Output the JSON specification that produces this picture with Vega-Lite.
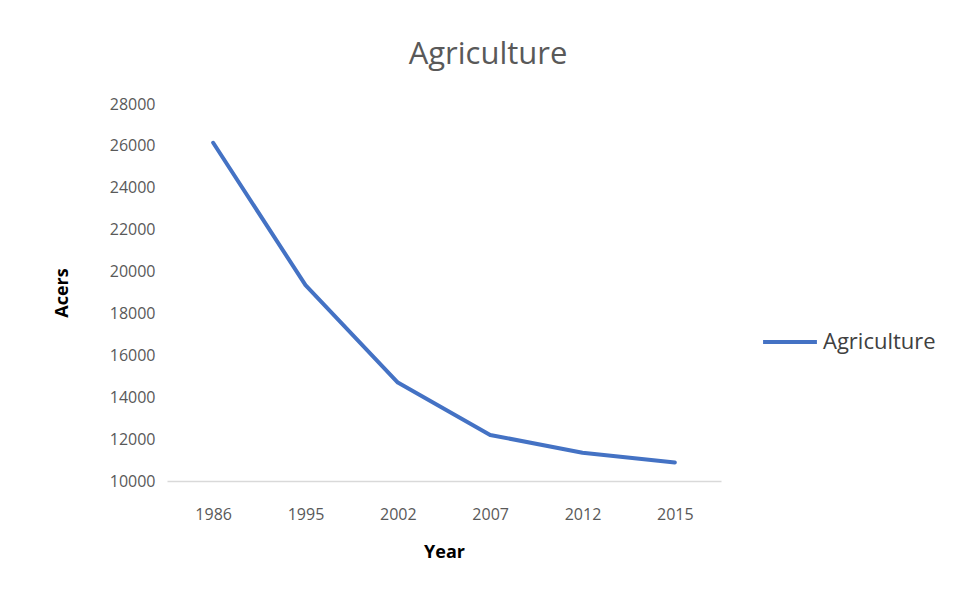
{
  "$schema": "https://vega.github.io/schema/vega-lite/v6.json",
  "width": 554,
  "height": 377,
  "autosize": {"type": "none"},
  "padding": {"left": 167, "top": 104, "right": 235, "bottom": 116},
  "background": "white",
  "title": {
    "text": "Agriculture",
    "font": "Open Sans",
    "fontSize": 31,
    "fontWeight": "normal",
    "color": "#595959",
    "anchor": "middle",
    "frame": "group",
    "dx": 44,
    "offset": 25
  },
  "data": {
    "values": [
      {"Year": "1986", "Acers": 26150, "Series": "Agriculture"},
      {"Year": "1995", "Acers": 19350, "Series": "Agriculture"},
      {"Year": "2002", "Acers": 14700, "Series": "Agriculture"},
      {"Year": "2007", "Acers": 12200, "Series": "Agriculture"},
      {"Year": "2012", "Acers": 11350, "Series": "Agriculture"},
      {"Year": "2015", "Acers": 10880, "Series": "Agriculture"}
    ]
  },
  "mark": {"type": "line", "strokeWidth": 4, "strokeCap": "round", "strokeJoin": "round"},
  "encoding": {
    "x": {
      "field": "Year",
      "type": "ordinal",
      "sort": null,
      "axis": {
        "title": "Year",
        "labelAngle": 0,
        "labelFont": "Open Sans",
        "labelFontSize": 16,
        "labelColor": "#595959",
        "labelPadding": 25,
        "ticks": false,
        "domainColor": "#d9d9d9",
        "domainWidth": 1.5,
        "titleFont": "Open Sans",
        "titleFontSize": 18,
        "titleFontWeight": "bold",
        "titleColor": "#000000",
        "titlePadding": 21
      }
    },
    "y": {
      "field": "Acers",
      "type": "quantitative",
      "scale": {"domain": [10000, 28000], "nice": false, "zero": false},
      "axis": {
        "title": "Acers",
        "values": [10000, 12000, 14000, 16000, 18000, 20000, 22000, 24000, 26000, 28000],
        "format": "d",
        "labelFont": "Open Sans",
        "labelFontSize": 16,
        "labelColor": "#595959",
        "labelPadding": 12,
        "ticks": false,
        "domain": false,
        "grid": false,
        "titleFont": "Open Sans",
        "titleFontSize": 18,
        "titleFontWeight": "bold",
        "titleColor": "#000000",
        "titlePadding": 38
      }
    },
    "color": {
      "field": "Series",
      "type": "nominal",
      "scale": {"range": ["#4472C4"]},
      "legend": {
        "title": null,
        "orient": "none",
        "legendX": 594,
        "legendY": 209,
        "symbolType": "stroke",
        "symbolSize": 2900,
        "symbolStrokeWidth": 4,
        "labelFont": "Open Sans",
        "labelFontSize": 22,
        "labelColor": "#404040",
        "labelOffset": 4
      }
    }
  },
  "config": {"view": {"stroke": null}}
}
